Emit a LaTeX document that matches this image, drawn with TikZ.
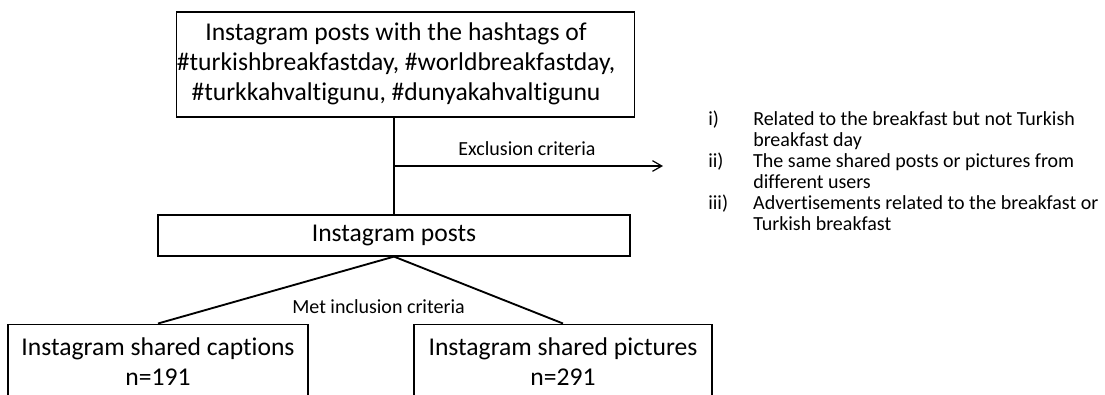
\documentclass[tikz,border=0pt]{standalone}
\usepackage{fontspec}
\setmainfont{Carlito}[Ligatures=NoCommon]
\usetikzlibrary{arrows.meta}
\begin{document}
\begin{tikzpicture}[x=0.75pt,y=-0.75pt,
  box/.style={draw=black, line width=0.9pt, inner sep=0pt, align=center,
    font=\fontsize{19.2}{22.2}\selectfont},
  lbl/.style={inner sep=0pt, font=\fontsize{15}{15.75}\selectfont},
  link/.style={line width=0.9pt},
  diag/.style={line width=1.4pt}]
\useasboundingbox (0,0) rectangle (1105,394);
\node[box, minimum width=338.25pt, minimum height=78.75pt] (top) at (405.5,64.5)
  {\begin{tabular}{@{}c@{}}Instagram posts with the hashtags of\\ \#turkishbreakfastday, \#worldbreakfastday,\\ \#turkkahvaltigunu, \#dunyakahvaltigunu\end{tabular}\hspace*{14.25pt}};
\node[box, minimum width=354pt, minimum height=30.75pt] (mid) at (394,235.5) {Instagram posts};
\node[box, minimum width=225pt, minimum height=56.25pt, anchor=north] (left) at (158,323.5)
  {Instagram shared captions\\ n=191};
\node[box, minimum width=223.5pt, minimum height=56.25pt, anchor=north] (right) at (563,323.5)
  {Instagram shared pictures\\ n=291};
\draw[link] (top.south -| mid.north) -- (mid.north);
\coordinate (split) at (394,166);
\coordinate (excl) at (663,166);
\draw[link,-{Straight Barb[length=7pt,width=8pt]}] (split) -- (excl);
\node[lbl, anchor=base] (exlabel) at (527,155) {Exclusion criteria};
\draw[diag] (mid.south) -- (left.north);
\draw[diag] (mid.south) -- (right.north);
\node[lbl, anchor=base] (inlabel) at (378.5,313) {Met inclusion criteria};
\node[lbl, anchor=base west] (list) at (708,125) {\begin{tabular}[t]{@{}p{33.75pt}@{}l@{}}
i) & Related to the breakfast but not Turkish\\
 & breakfast day\\
ii) & The same shared posts or pictures from\\
 & different users\\
iii) & Advertisements related to the breakfast or\\
 & Turkish breakfast
\end{tabular}};
\end{tikzpicture}
\end{document}
